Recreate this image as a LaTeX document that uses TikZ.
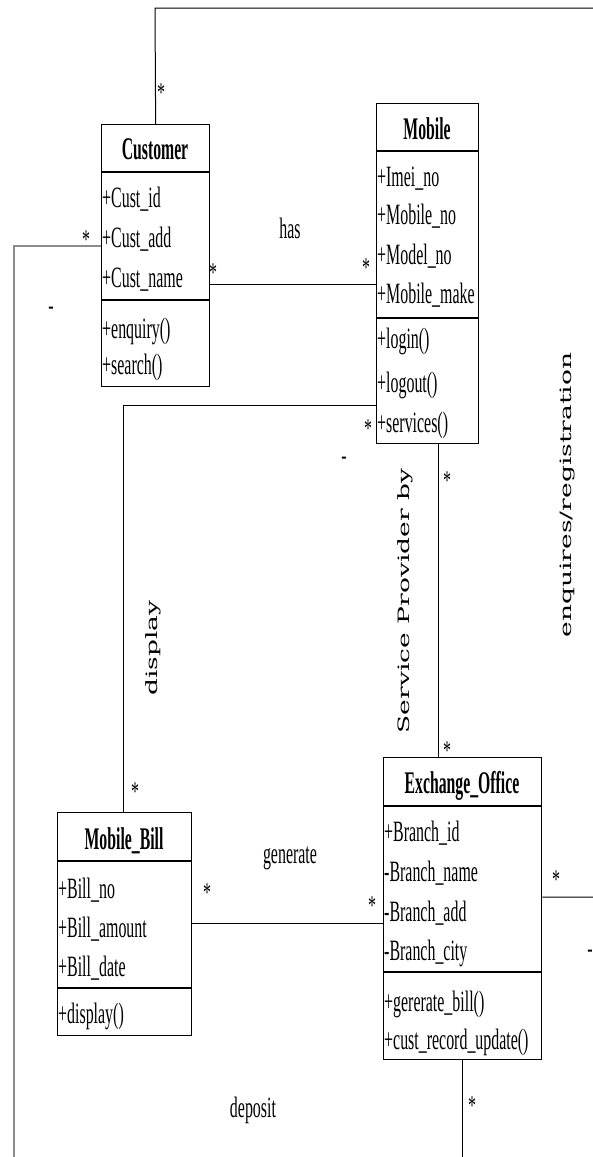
\documentclass[tikz,border=0pt]{standalone}
\usepackage{fontspec}
\newfontfamily\cfont[FakeStretch=0.59]{Liberation Serif}
\newfontfamily\afont[FakeStretch=0.54]{Liberation Serif}
\newfontfamily\hfont[FakeStretch=0.50]{Liberation Serif}
\newfontfamily\rfont{DejaVu Serif}
\usetikzlibrary{calc}
\tikzset{
  cls/.style={draw, line width=1.3pt, inner sep=0pt, anchor=north west},
  div/.style={line width=1.8pt},
  txt/.style={inner sep=0pt, font=\cfont\fontsize{27}{30}\selectfont},
  attr/.style={inner sep=0pt, anchor=base west, font=\afont\fontsize{29.5}{30}\selectfont},
  head/.style={inner sep=0pt, anchor=base, font=\hfont\bfseries\fontsize{31.5}{30}\selectfont},
  mult/.style={txt},
  lbl/.style={inner sep=0pt, font=\afont\fontsize{29.5}{30}\selectfont},
  conn/.style={line width=1pt, black},
  gconn/.style={line width=1.8pt, black!45},
  rlbl/.style={inner sep=0pt, rotate=90}
}
\newcommand{\rtext}[1]{\scalebox{1}[0.59]{\rfont\fontsize{26.5}{30}\selectfont #1}}
\begin{document}
\begin{tikzpicture}[x=1pt,y=-1pt]
\useasboundingbox (0,0) rectangle (593,1157);
\clip (0,0) rectangle (593,1157);
\fill[white] (0,0) rectangle (593,1157);

% ---------- Customer ----------
\node[cls, minimum width=108pt, minimum height=262pt] (cust) at (101,124) {};
\draw[div] ([yshift=-48pt]cust.north west) -- ([yshift=-48pt]cust.north east);
\draw[div] ([yshift=-176pt]cust.north west) -- ([yshift=-176pt]cust.north east);
\node[head] (custh) at (155,159) {Customer};
\node[attr] (c1) at (102,207) {+Cust\_id};
\node[attr] (c2) at (102,247) {+Cust\_add};
\node[attr] (c3) at (102,287) {+Cust\_name};
\node[attr] (c4) at (102,338) {+enquiry()};
\node[attr] (c5) at (102,374) {+search()};

% ---------- Mobile ----------
\node[cls, minimum width=102pt, minimum height=340pt] (mob) at (376,103) {};
\draw[div] ([yshift=-48pt]mob.north west) -- ([yshift=-48pt]mob.north east);
\draw[div] ([yshift=-215pt]mob.north west) -- ([yshift=-215pt]mob.north east);
\node[head] (mobh) at (427,139) {Mobile};
\node[attr] (m1) at (377,186) {+Imei\_no};
\node[attr] (m2) at (377,224) {+Mobile\_no};
\node[attr] (m3) at (377,264) {+Model\_no};
\node[attr] (m4) at (377,303) {+Mobile\_make};
\node[attr] (m5) at (377,348) {+login()};
\node[attr] (m6) at (377,392) {+logout()};
\node[attr] (m7) at (377,432) {+services()};

% ---------- Exchange_Office ----------
\node[cls, minimum width=158pt, minimum height=302pt] (exch) at (383,757) {};
\draw[div] ([yshift=-49pt]exch.north west) -- ([yshift=-49pt]exch.north east);
\draw[div] ([yshift=-215pt]exch.north west) -- ([yshift=-215pt]exch.north east);
\node[head] (exchh) at (462,793) {Exchange\_Office};
\node[attr] (e1) at (384,841) {+Branch\_id};
\node[attr] (e2) at (384,881) {-Branch\_name};
\node[attr] (e3) at (384,921) {-Branch\_add};
\node[attr] (e4) at (384,960) {-Branch\_city};
\node[attr] (e5) at (384,1011) {+gererate\_bill()};
\node[attr] (e6) at (384,1049) {+cust\_record\_update()};

% ---------- Mobile_Bill ----------
\node[cls, minimum width=134pt, minimum height=223pt] (bill) at (57,812) {};
\draw[div] ([yshift=-49pt]bill.north west) -- ([yshift=-49pt]bill.north east);
\draw[div] ([yshift=-176pt]bill.north west) -- ([yshift=-176pt]bill.north east);
\node[head] (billh) at (124,849) {Mobile\_Bill};
\node[attr] (b1) at (58,898) {+Bill\_no};
\node[attr] (b2) at (58,937) {+Bill\_amount};
\node[attr] (b3) at (58,976) {+Bill\_date};
\node[attr] (b4) at (58,1023) {+display()};

% ---------- connector bends ----------
\coordinate (tl) at (155,8);
\coordinate (tr) at (610,8);
\coordinate (br) at (610,897);
\coordinate (cl) at (14,246);
\coordinate (cb) at (14,1170);
\coordinate (hy) at (0,284);
\coordinate (dl) at (123,405);
\coordinate (sp) at (438,0);
\coordinate (gy) at (0,923);
\coordinate (eb) at (462,1170);

% ---------- connectors ----------
\draw[conn] (cust.north) -- (tl) -- (tr) -- (br) -- (exch.east |- br);
\draw[gconn] (cust.west |- cl) -- (cl) -- (cb);
\draw[conn] (cust.east |- hy) -- (mob.west |- hy);
\draw[conn] (mob.west |- dl) -- (dl) -- (dl |- bill.north);
\draw[conn] (mob.south -| sp) -- (exch.north -| sp);
\draw[conn] (bill.east |- gy) -- (exch.west |- gy);
\draw[conn] (exch.south -| eb) -- (eb);

% ---------- multiplicities ----------
\node[mult] (s1) at (161,93) {*};
\node[mult] (s2) at (86,240) {*};
\node[mult] (s3) at (213,273) {*};
\node[mult] (s4) at (366,268) {*};
\node[mult] (s5) at (368,429) {*};
\node[mult] (s6) at (447,481) {*};
\node[mult] (s7) at (447,751) {*};
\node[mult] (s8) at (135,792) {*};
\node[mult] (s9) at (207,893) {*};
\node[mult] (s10) at (372,906) {*};
\node[mult] (s11) at (556,880) {*};
\node[mult] (s12) at (472,1106) {*};
\node[mult] (d1) at (51,311) {-};
\node[mult] (d2) at (344,461) {-};
\node[mult] (d3) at (590,954) {-};

% ---------- association labels ----------
\node[lbl] (has) at (290,228) {has};
\node[lbl] (gen) at (290,858) {generate};
\node[lbl] (dep) at (253,1110) {deposit};
\node[rlbl] (disp) at (153,648) {\rtext{display}};
\node[rlbl] (spb) at (405,601) {\rtext{Service Provider by}};
\node[rlbl] (enq) at (567,495) {\rtext{enquires/registration}};
\end{tikzpicture}
\end{document}
